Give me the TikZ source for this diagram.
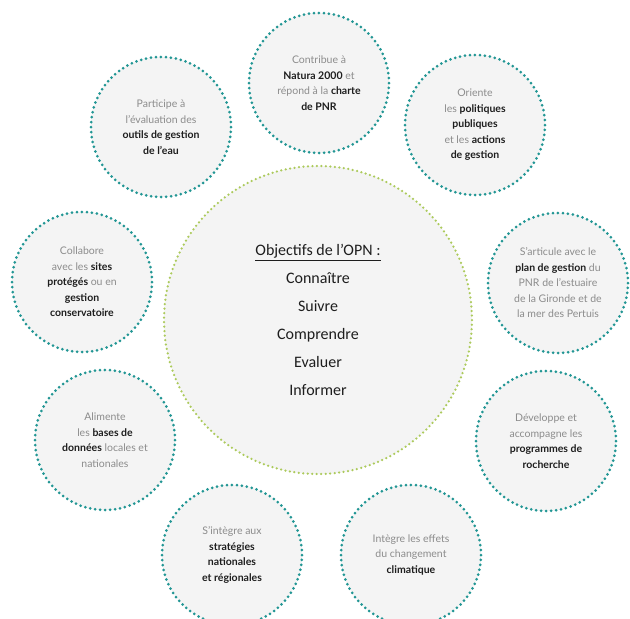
\documentclass[tikz,border=0pt]{standalone}
\usepackage{fontspec}
\setmainfont{Lato}
\newfontfamily\carl{Carlito}
\definecolor{ringteal}{RGB}{34,150,148}
\definecolor{ringlime}{RGB}{172,202,92}
\definecolor{fillg}{RGB}{244,244,244}
\definecolor{txtg}{RGB}{140,140,140}
\definecolor{txtd}{RGB}{30,30,30}
\newcommand{\bt}[1]{{\bfseries\color{txtd}#1}}
\begin{document}
\begin{tikzpicture}[x=1pt,y=-1pt,
  bubble/.style={circle, minimum size=140pt, inner sep=0pt, fill=fillg,
    draw=ringteal, line width=3pt, dash pattern=on 0pt off 5pt, line cap=round,
    align=center, text=txtg, font=\fontsize{10.5}{15.5}\selectfont},
  hub/.style={circle, minimum size=308pt, inner sep=0pt, fill=fillg,
    draw=ringlime, line width=2.5pt, dash pattern=on 0pt off 4.5pt, line cap=round,
    align=center, text=txtd, font=\carl\fontsize{16}{28}\selectfont}]
\useasboundingbox (0,0) rectangle (630,619);
\node[hub] (hub) at (318,320) {\underline{Objectifs de l’OPN :}\\Connaître\\Suivre\\Comprendre\\Evaluer\\Informer};
\node[bubble] (top) at (319,83) {Contribue à\\\bt{Natura 2000} et\\répond à la \bt{charte}\\\bt{de PNR}};
\node[bubble] (ul) at (161,127) {Participe à\\l’évaluation des\\\bt{outils de gestion}\\\bt{de l’eau}};
\node[bubble] (ur) at (475,125) {Oriente\\les \bt{politiques}\\\bt{publiques}\\et les \bt{actions}\\\bt{de gestion}};
\node[bubble] (le) at (82,282) {Collabore\\avec les \bt{sites}\\\bt{protégés} ou en\\\bt{gestion}\\\bt{conservatoire}};
\node[bubble] (ri) at (558,283) {S’articule avec le\\\bt{plan de gestion} du\\PNR de l’estuaire\\de la Gironde et de\\la mer des Pertuis};
\node[bubble] (ll) at (105,440) {Alimente\\les \bt{bases de}\\\bt{données} locales et\\nationales};
\node[bubble] (lr) at (546,441) {Développe et\\accompagne les\\\bt{programmes de}\\\bt{rocherche}};
\node[bubble] (bl) at (232,555) {S’intègre aux\\\bt{stratégies}\\\bt{nationales}\\\bt{et régionales}};
\node[bubble] (br) at (411,555) {Intègre les effets\\du changement\\\bt{climatique}};
\end{tikzpicture}
\end{document}
